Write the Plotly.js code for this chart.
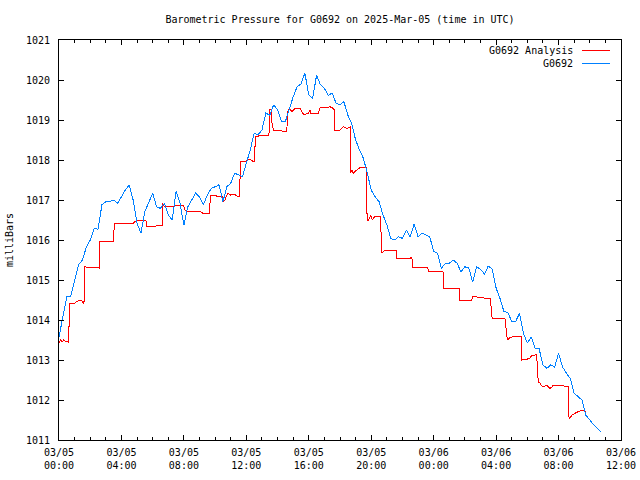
<!DOCTYPE html>
<html>
<head>
<meta charset="utf-8">
<script src="https://cdn.plot.ly/plotly-3.0.1.min.js"></script>
<style>
html,body{margin:0;padding:0;background:#fff;}
#chart{width:640px;height:480px;}
#chart .scatterlayer path, #chart .layer-above path, #chart .layer-below path{shape-rendering:crispEdges;}
</style>
</head>
<body>
<div id="chart"></div>
<script>
// ---- data ----
const startTime = '2025-03-05T00:00:00Z';
const blueStepMinutes = 15;
// G0692 observations, every 15 minutes from 03/05 00:00 (hPa)
const obsValues = [
  1013.58,1014.04,1014.58,1014.60,1014.96,1015.38,1015.50,1015.82,
  1016.00,1016.29,1016.27,1016.88,1016.96,1016.96,1017.00,1016.92,
  1017.08,1017.25,1017.38,1017.00,1016.42,1016.17,1016.71,1016.92,
  1017.17,1016.83,1016.79,1016.92,1016.63,1016.50,1017.21,1016.92,
  1016.37,1016.83,1017.00,1017.17,1017.08,1016.88,1017.12,1017.29,
  1017.33,1017.38,1016.96,1017.33,1017.42,1017.67,1017.63,1017.58,
  1017.92,1018.25,1018.67,1018.63,1018.75,1019.17,1019.12,1019.38,
  1019.25,1018.96,1018.96,1019.29,1019.58,1019.83,1019.90,1020.17,
  1019.63,1019.54,1020.12,1019.88,1019.79,1019.62,1019.67,1019.42,
  1019.38,1019.46,1019.12,1018.92,1018.50,1018.25,1018.04,1017.67,
  1017.25,1017.08,1016.96,1016.63,1016.38,1016.04,1016.00,1016.08,
  1016.04,1016.25,1016.08,1016.40,1016.08,1016.17,1016.12,1016.08,
  1015.71,1015.67,1015.29,1015.42,1015.42,1015.50,1015.42,1015.20,
  1015.33,1015.30,1014.95,1015.33,1015.27,1015.15,1015.35,1015.27,
  1014.80,1014.54,1014.21,1014.19,1013.96,1013.96,1014.17,1013.67,
  1013.42,1013.58,1013.29,1013.29,1012.88,1012.79,1012.88,1012.82,
  1013.17,1012.83,1012.67,1012.54,1012.17,1012.08,1012.00,1011.62,
  1011.50,1011.38,1011.29,1011.19
];
// G0692 Analysis: hours after 03/05 00:00 and values (hPa)
const anaHours = [
  0.00,0.10,0.20,0.30,0.42,0.56,0.60,0.65,0.70,1.02,1.13,1.35,1.45,1.56,1.60,1.64,
  1.88,2.10,2.50,2.57,2.62,3.48,3.55,4.76,4.87,5.50,5.57,5.60,6.00,6.47,6.60,6.64,
  6.75,7.97,8.07,8.18,8.30,8.50,8.75,9.07,9.25,9.57,9.65,9.69,10.48,10.53,10.64,10.74,
  10.85,11.00,11.20,11.50,11.55,11.64,11.94,12.13,12.24,12.45,12.52,12.58,12.77,12.99,
  13.41,13.45,13.49,13.58,13.65,13.73,14.59,14.65,14.74,14.80,14.91,15.01,15.12,15.44,
  15.55,15.65,15.76,15.87,15.97,16.08,16.12,16.29,16.61,16.68,16.72,17.04,17.15,17.36,
  17.57,17.64,17.68,18.00,18.11,18.22,18.44,18.65,18.69,18.75,18.86,18.96,19.07,19.18,
  19.39,19.68,19.71,19.75,19.82,19.88,19.97,20.03,20.07,20.14,20.24,20.56,20.61,20.65,
  20.78,20.88,21.00,21.10,21.42,21.59,21.63,22.49,22.55,22.61,22.66,23.62,23.66,24.41,
  24.58,24.62,24.66,25.64,25.68,26.44,26.50,26.65,26.97,27.40,27.61,27.65,27.70,27.76,
  28.57,28.64,28.72,28.90,29.11,29.32,29.53,29.60,29.64,29.75,29.96,30.17,30.28,30.49,
  30.60,30.64,30.70,30.81,30.92,31.03,31.24,31.35,31.45,31.56,31.66,31.88,32.09,32.31,
  32.42,32.52,32.63,32.67,32.73,32.84,32.95,33.05,33.16,33.27,33.38,33.59,33.70,33.76
];
const anaValues = [
  1013.43,1013.50,1013.45,1013.50,1013.47,1013.47,1013.42,1013.92,1014.42,1014.42,1014.46,1014.50,1014.48,1014.42,1014.42,1015.33,
  1015.32,1015.30,1015.31,1015.30,1015.97,1015.96,1016.42,1016.42,1016.47,1016.50,1016.50,1016.35,1016.33,1016.37,1016.37,1016.92,
  1016.83,1016.87,1016.75,1016.71,1016.72,1016.70,1016.72,1016.71,1016.66,1016.67,1016.67,1017.12,1017.08,1016.96,1017.00,1017.12,
  1017.17,1017.12,1017.15,1017.08,1017.08,1017.96,1017.96,1018.00,1018.02,1017.96,1017.96,1018.58,1018.60,1018.62,
  1018.62,1018.62,1019.27,1019.25,1018.90,1018.75,1018.71,1019.20,1019.29,1019.25,1019.21,1019.25,1019.29,1019.29,
  1019.21,1019.15,1019.12,1019.17,1019.17,1019.25,1019.17,1019.15,1019.17,1019.25,1019.31,1019.30,1019.31,1019.33,
  1019.29,1019.25,1018.75,1018.75,1018.79,1018.83,1018.79,1018.83,1017.67,1017.75,1017.67,1017.71,1017.77,1017.79,
  1017.82,1017.82,1016.83,1016.50,1016.50,1016.54,1016.60,1016.57,1016.50,1016.54,1016.60,1016.60,1016.58,1015.67,
  1015.71,1015.75,1015.73,1015.73,1015.75,1015.75,1015.54,1015.54,1015.58,1015.54,1015.31,1015.31,1015.21,1015.21,
  1015.22,1015.18,1014.79,1014.79,1014.50,1014.50,1014.58,1014.58,1014.56,1014.54,1014.54,1014.52,1014.15,1014.03,
  1014.03,1013.80,1013.50,1013.57,1013.58,1013.60,1013.60,1013.58,1013.00,1013.02,1013.02,1013.04,1013.12,1013.12,
  1013.14,1012.80,1012.46,1012.42,1012.35,1012.33,1012.37,1012.33,1012.29,1012.32,1012.37,1012.37,1012.35,1012.37,
  1012.33,1012.35,1012.33,1011.58,1011.54,1011.62,1011.65,1011.68,1011.69,1011.71,1011.73,1011.74,1011.73,1011.71
];
const seriesNames = ['G0692 Analysis', 'G0692'];
const seriesColors = ['#ff0000', '#0080ff'];

// ---- build traces ----
const t0 = Date.parse(startTime);
function stamp(ms){ return new Date(ms).toISOString().replace('T',' ').slice(0,19); }
const obsX = obsValues.map((v,i)=>stamp(t0 + i*blueStepMinutes*60000));
const anaX = anaHours.map(h=>stamp(t0 + Math.round(h*3600000)));

const font = {family:'"DejaVu Sans Mono", "Liberation Mono", monospace', size:10, color:'#000'};

const traces = [
  {x: anaX, y: anaValues, type:'scatter', mode:'lines', name:seriesNames[0],
   line:{color:seriesColors[0], width:1}},
  {x: obsX, y: obsValues, type:'scatter', mode:'lines', name:seriesNames[1],
   line:{color:seriesColors[1], width:1}}
];

const layout = {
  width:640, height:480,
  margin:{l:59, r:19, t:40, b:40, pad:0},
  paper_bgcolor:'#fff', plot_bgcolor:'#fff',
  font: font,
  showlegend:false,
  title:{text:'Barometric Pressure for G0692 on 2025-Mar-05 (time in UTC)', x:0.5, xref:'paper', xanchor:'center',
         y:1-19/480, yref:'container', yanchor:'middle', font:font},
  xaxis:{
    type:'date', range:['2025-03-05 00:00:00','2025-03-06 12:00:00'],
    tick0:'2025-03-05 00:00:00', dtick:4*3600000, tickformat:'%m/%d<br>%H:%M',
    ticks:'inside', ticklen:5, tickcolor:'#000', tickwidth:1,
    showline:true, linecolor:'#000', linewidth:1, mirror:'allticks',
    showgrid:false, zeroline:false, ticklabelstandoff:3,
    minor:{dtick:3600000, ticks:'inside', ticklen:3, tickcolor:'#000', tickwidth:1, showgrid:false},
    tickfont:font, fixedrange:true
  },
  yaxis:{
    range:[1011,1021], dtick:1, tickformat:'d',
    ticks:'inside', ticklen:5, tickcolor:'#000', tickwidth:1,
    showline:true, linecolor:'#000', linewidth:1, mirror:'allticks',
    showgrid:false, zeroline:false, ticklabelstandoff:6,
    title:{text:'milliBars', font:font, standoff:10},
    tickfont:font, fixedrange:true
  },
  annotations:[
    {xref:'paper', yref:'paper', x:(575-59)/562, y:(440-50)/400, xanchor:'right', yanchor:'middle',
     text:seriesNames[0], showarrow:false, font:font},
    {xref:'paper', yref:'paper', x:(575-59)/562, y:(440-63)/400, xanchor:'right', yanchor:'middle',
     text:seriesNames[1], showarrow:false, font:font}
  ],
  shapes:[
    {type:'line', xref:'paper', yref:'paper', x0:(582-59)/562, x1:(610-59)/562, y0:(440-50)/400, y1:(440-50)/400,
     line:{color:seriesColors[0], width:1}},
    {type:'line', xref:'paper', yref:'paper', x0:(582-59)/562, x1:(610-59)/562, y0:(440-63)/400, y1:(440-63)/400,
     line:{color:seriesColors[1], width:1}}
  ]
};

Plotly.newPlot('chart', traces, layout, {displayModeBar:false, staticPlot:true});
</script>
</body>
</html>
